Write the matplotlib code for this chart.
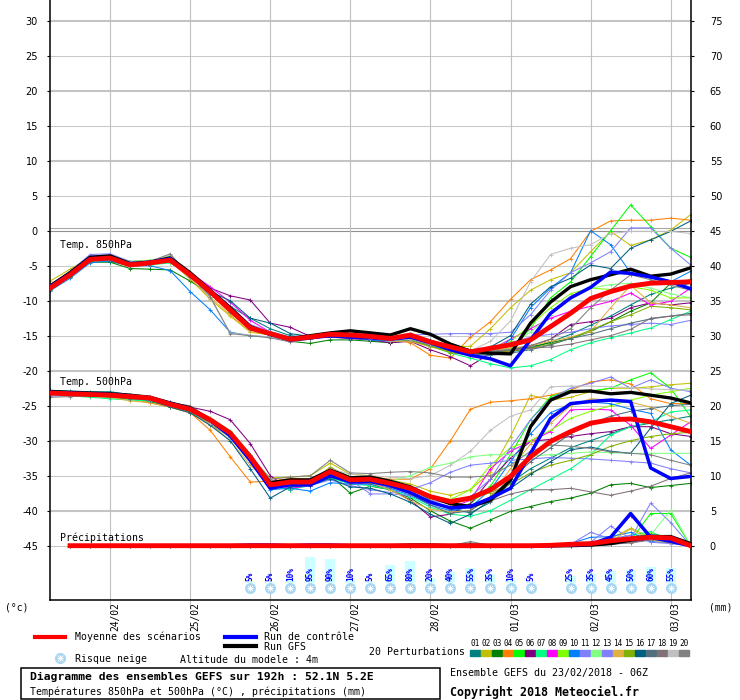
import numpy as np
import matplotlib
matplotlib.use("Agg")
from matplotlib import pyplot as plt
from matplotlib.lines import Line2D
from matplotlib.patches import Rectangle

MONO = "DejaVu Sans Mono"

# time axis: GEFS 23/02/2018 06Z, every 6h up to 192h
hours = list(range(0, 193, 6))
prc_hours = hours[1:]
day_hours = [18, 42, 66, 90, 114, 138, 162, 186]
day_labels = ["24/02", "25/02", "26/02", "27/02", "28/02", "01/03", "02/03", "03/03"]

member_names = ["01", "02", "03", "04", "05", "06", "07", "08", "09", "10",
                "11", "12", "13", "14", "15", "16", "17", "18", "19", "20"]
member_colors = ["#008080", "#c0c000", "#008000", "#ff8000", "#00ff00", "#800080",
                 "#00ff80", "#ff00ff", "#80ff00", "#0080ff", "#8080ff", "#80ff80",
                 "#8080ff", "#e0b040", "#80b000", "#006080", "#507080", "#807078",
                 "#c0c0c0", "#808080"]

# ---- 850 hPa temperature (C)
t850_mean = [-8.2, -6.3, -4.1, -3.9, -4.9, -4.6, -4.2, -6.3, -8.7, -11.3, -13.9, -14.7, -15.5, -15.2, -14.8, -14.9, -15.1,
             -15.4, -14.9, -15.9, -16.6, -17.3, -16.8, -16.3, -15.6, -13.7, -11.8, -9.7, -8.7, -7.9, -7.5, -7.4, -7.3]
t850_gfs = [-7.9, -6.0, -3.8, -3.6, -4.7, -4.5, -3.9, -6.0, -8.5, -11.0, -13.7, -14.8, -15.4, -15.0, -14.6, -14.3, -14.6,
            -14.9, -14.0, -14.8, -16.2, -17.2, -17.5, -17.6, -13.2, -10.2, -8.0, -7.0, -6.3, -5.5, -6.5, -6.2, -5.3]
t850_ctrl = [-8.0, -6.2, -4.0, -3.9, -4.8, -4.5, -4.0, -6.4, -8.6, -11.2, -13.8, -14.8, -15.6, -15.3, -15.0, -15.2, -15.3,
             -15.5, -15.2, -16.0, -17.0, -17.8, -18.3, -19.3, -15.6, -11.8, -9.6, -8.1, -5.9, -6.1, -6.6, -7.3, -8.3]
t850_01 = [-8.0, -6.1, -4.2, -4.4, -5.0, -4.8, -4.1, -6.6, -8.9, -10.8, -12.5, -14.0, -15.0, -15.2, -14.7, -14.9, -15.1,
           -15.4, -15.0, -15.7, -16.4, -17.0, -17.4, -17.3, -16.8, -15.9, -14.8, -13.5, -12.2, -10.6, -9.1, -8.2, -7.5]
t850_02 = [-7.2, -5.5, -3.9, -3.8, -4.6, -4.4, -4.1, -6.9, -9.8, -12.2, -14.5, -14.9, -15.5, -15.1, -14.8, -15.0, -15.1,
           -15.5, -15.3, -16.1, -16.6, -16.5, -14.0, -11.0, -8.5, -7.0, -6.0, -3.0, -0.1, -2.1, -1.3, 0.1, 2.3]
t850_03 = [-8.4, -6.6, -4.5, -4.5, -5.4, -5.5, -5.6, -7.2, -9.0, -11.5, -14.0, -15.0, -15.8, -16.1, -15.6, -15.6, -15.8,
           -16.0, -15.7, -16.5, -17.2, -17.6, -17.4, -17.0, -16.6, -16.0, -15.4, -14.4, -13.0, -11.5, -10.3, -7.5, -7.0]
t850_04 = [-8.0, -6.2, -4.0, -3.8, -4.8, -4.5, -4.3, -6.5, -9.0, -11.8, -14.0, -14.6, -15.3, -15.0, -14.9, -15.2, -15.4,
           -15.5, -16.0, -17.8, -18.2, -15.2, -13.0, -9.8, -7.0, -5.6, -4.0, -0.1, 1.4, 1.5, 1.5, 1.8, 1.5]
t850_05 = [-8.3, -6.4, -4.2, -3.7, -4.4, -4.3, -3.6, -6.0, -8.6, -11.2, -13.6, -14.6, -15.4, -15.3, -15.0, -15.2, -15.4,
           -15.7, -15.4, -16.3, -17.0, -17.5, -17.2, -16.8, -14.0, -9.6, -7.3, -3.7, 0.0, 3.7, 0.6, -2.5, -3.8]
t850_06 = [-8.4, -6.6, -4.4, -4.0, -4.8, -4.6, -4.2, -6.2, -8.2, -9.3, -9.9, -13.2, -13.8, -15.1, -15.2, -15.4, -15.6,
           -16.0, -15.8, -17.0, -18.0, -19.3, -17.5, -17.2, -16.5, -15.5, -13.4, -13.0, -12.5, -11.0, -10.3, -10.6, -10.3]
t850_07 = [-8.5, -6.5, -4.4, -4.2, -5.1, -4.9, -4.6, -6.4, -8.8, -11.5, -14.0, -14.9, -15.6, -15.4, -15.0, -15.3, -15.5,
           -15.7, -15.6, -16.4, -17.5, -18.2, -19.0, -19.6, -19.3, -18.4, -17.0, -16.0, -15.3, -14.6, -13.9, -12.7, -11.5]
t850_08 = [-8.1, -6.2, -4.0, -3.8, -4.7, -4.5, -4.0, -6.0, -8.0, -10.2, -12.8, -14.5, -15.3, -15.1, -14.8, -15.1, -15.3,
           -15.6, -15.5, -16.2, -17.0, -17.5, -17.0, -15.5, -14.0, -12.5, -11.5, -10.8, -10.1, -8.9, -10.6, -10.1, -8.2]
t850_09 = [-8.2, -6.3, -4.1, -3.6, -4.4, -4.2, -3.8, -6.3, -8.6, -11.2, -14.0, -14.8, -15.5, -15.2, -14.9, -15.1, -15.3,
           -15.6, -15.3, -16.0, -16.8, -17.4, -16.8, -15.8, -13.5, -11.0, -9.0, -8.2, -8.4, -8.0, -8.5, -9.6, -9.6]
t850_10 = [-8.6, -6.8, -4.6, -4.3, -5.0, -5.0, -5.7, -8.7, -11.3, -14.5, -15.0, -15.2, -15.6, -15.4, -15.1, -15.3, -15.6,
           -15.8, -15.6, -16.4, -17.0, -17.6, -17.8, -15.5, -11.0, -8.2, -6.0, 0.0, -2.0, -6.0, -6.8, -7.3, -5.8]
t850_11 = [-7.8, -5.8, -3.4, -3.3, -4.4, -4.3, -4.0, -6.2, -8.4, -11.0, -13.6, -14.6, -15.4, -15.1, -14.8, -14.9, -15.0,
           -15.2, -14.9, -14.8, -14.7, -14.7, -14.7, -14.5, -12.0, -8.5, -6.0, -4.6, -3.0, 0.4, 0.4, -2.5, -4.9]
t850_12 = [-8.0, -6.1, -4.0, -3.7, -4.6, -4.4, -4.1, -6.4, -8.7, -11.4, -14.0, -14.8, -15.5, -15.3, -15.0, -15.2, -15.4,
           -15.7, -15.5, -16.3, -17.0, -17.3, -17.0, -16.3, -14.5, -12.0, -9.5, -8.2, -7.7, -7.5, -8.2, -9.0, -9.6]
t850_13 = [-7.9, -6.0, -3.6, -3.5, -4.5, -4.4, -3.9, -6.1, -8.3, -10.8, -13.4, -14.4, -15.2, -15.0, -14.7, -14.9, -15.1,
           -15.5, -15.3, -16.0, -16.8, -17.2, -16.8, -16.0, -15.2, -14.8, -14.5, -14.0, -13.6, -13.4, -13.2, -13.4, -12.8]
t850_14 = [-8.1, -6.2, -4.3, -4.0, -4.9, -4.7, -4.4, -6.9, -9.5, -12.0, -14.4, -14.8, -15.5, -15.2, -14.9, -15.1, -15.3,
           -15.8, -15.8, -16.6, -17.3, -17.8, -17.2, -16.8, -16.4, -15.8, -15.2, -14.4, -11.0, -7.8, -10.3, -10.6, -11.0]
t850_15 = [-8.3, -6.4, -4.2, -4.0, -4.8, -4.7, -4.3, -6.5, -8.8, -11.3, -13.9, -14.8, -15.5, -15.3, -15.0, -15.2, -15.4,
           -15.7, -15.6, -16.5, -17.4, -17.8, -17.6, -17.2, -16.8, -16.2, -15.4, -14.2, -13.0, -12.0, -10.8, -11.0, -11.3]
t850_16 = [-8.3, -6.4, -4.3, -4.1, -4.9, -4.6, -4.2, -6.0, -8.7, -10.0, -12.5, -13.2, -14.7, -15.1, -14.6, -14.8, -15.0,
           -15.2, -14.8, -15.6, -16.6, -17.2, -16.6, -15.0, -10.5, -8.0, -6.8, -4.9, -5.4, -2.5, -1.3, -0.1, 1.4]
t850_17 = [-8.2, -6.3, -4.2, -4.0, -4.9, -4.7, -4.3, -6.6, -9.0, -11.6, -14.1, -14.9, -15.6, -15.4, -15.1, -15.3, -15.5,
           -15.7, -15.5, -16.3, -17.0, -17.6, -17.8, -17.5, -17.0, -16.3, -15.4, -14.8, -14.0, -13.2, -12.6, -12.2, -11.8]
t850_18 = [-8.0, -6.1, -4.1, -3.9, -4.8, -4.6, -4.1, -6.3, -8.6, -11.2, -13.8, -14.7, -15.4, -15.2, -14.9, -15.1, -15.3,
           -15.6, -15.4, -16.2, -16.9, -17.4, -17.3, -17.0, -16.8, -16.6, -16.2, -15.6, -15.0, -14.1, -12.5, -12.2, -12.0]
t850_19 = [-7.9, -6.0, -3.9, -3.8, -4.6, -4.3, -3.5, -6.2, -9.6, -14.6, -14.9, -15.2, -15.6, -15.3, -15.0, -15.2, -15.4,
           -15.7, -15.5, -16.2, -16.8, -17.2, -15.8, -12.9, -7.3, -3.4, -2.5, -2.0, -0.4, -0.1, -0.1, -0.1, -0.4]
t850_20 = [-8.2, -6.3, -4.0, -3.8, -4.7, -4.4, -3.3, -6.4, -9.4, -14.7, -15.0, -15.3, -15.9, -15.5, -15.0, -15.0, -15.2,
           -15.5, -15.2, -15.9, -16.6, -17.0, -17.2, -17.0, -16.4, -15.5, -14.0, -11.0, -8.5, -6.3, -7.0, -7.8, -8.5]

# ---- 500 hPa temperature (C)
t500_mean = [-23.2, -23.3, -23.4, -23.5, -23.7, -23.9, -24.8, -25.5, -27.0, -28.9, -32.3, -36.3, -35.9, -35.9, -34.4, -35.6, -35.5,
             -36.1, -36.8, -38.0, -38.7, -38.2, -37.0, -35.1, -32.3, -30.1, -28.7, -27.5, -27.0, -26.9, -27.3, -28.0, -28.7]
t500_gfs = [-23.0, -23.1, -23.2, -23.3, -23.5, -23.8, -24.6, -25.3, -27.0, -29.0, -32.5, -36.0, -35.6, -35.6, -34.2, -35.3, -35.2,
            -35.8, -36.6, -38.0, -39.0, -39.4, -38.5, -35.6, -28.0, -24.2, -23.0, -22.9, -23.3, -23.1, -23.5, -23.9, -24.6]
t500_ctrl = [-23.1, -23.2, -23.3, -23.4, -23.6, -23.9, -24.7, -25.4, -27.1, -29.3, -32.8, -36.8, -36.3, -36.3, -35.0, -35.9, -35.8,
             -36.4, -37.4, -38.8, -39.6, -39.4, -38.2, -36.8, -31.8, -26.8, -24.7, -24.4, -24.2, -24.4, -33.9, -35.4, -35.1]
t500_01 = [-22.8, -22.9, -23.0, -23.0, -23.4, -23.8, -24.7, -25.5, -27.2, -29.3, -32.8, -36.5, -36.0, -35.8, -34.6, -35.4, -35.2,
           -36.0, -36.8, -38.5, -39.8, -40.3, -38.8, -36.0, -34.0, -32.5, -31.0, -30.0, -29.0, -28.0, -27.5, -27.0, -26.5]
t500_02 = [-23.2, -23.2, -23.4, -23.6, -23.8, -24.0, -24.9, -25.8, -27.3, -29.1, -32.4, -35.3, -35.2, -35.0, -33.2, -34.8, -35.0,
           -35.6, -36.2, -37.2, -37.8, -37.0, -34.5, -29.4, -23.5, -24.2, -23.8, -23.0, -22.5, -22.5, -22.3, -22.0, -21.8]
t500_03 = [-23.0, -23.3, -23.6, -23.7, -24.0, -24.4, -25.2, -26.0, -27.6, -29.5, -33.0, -36.8, -36.4, -36.2, -35.0, -37.5, -36.5,
           -37.0, -38.2, -40.0, -41.5, -42.5, -41.3, -40.1, -39.4, -38.7, -38.2, -37.5, -36.3, -36.1, -36.7, -36.4, -36.1]
t500_04 = [-23.3, -23.4, -23.5, -23.6, -24.0, -24.6, -25.2, -26.0, -28.5, -32.3, -35.9, -35.8, -35.4, -35.4, -34.2, -35.2, -35.2,
           -35.5, -35.5, -34.0, -30.0, -25.5, -24.5, -24.3, -24.0, -23.5, -22.8, -21.6, -21.3, -21.9, -24.0, -24.7, -24.7]
t500_05 = [-23.1, -23.3, -23.6, -23.8, -24.1, -23.9, -24.6, -25.3, -26.8, -28.6, -32.0, -36.0, -36.6, -36.0, -34.8, -35.8, -35.9,
           -36.5, -37.5, -38.8, -39.6, -39.0, -36.5, -32.0, -27.0, -23.7, -22.8, -22.9, -22.5, -21.3, -20.3, -22.5, -26.6]
t500_06 = [-23.2, -23.3, -23.4, -23.5, -23.7, -23.8, -24.5, -25.2, -25.8, -27.0, -30.4, -35.0, -37.0, -36.2, -35.2, -36.0, -36.2,
           -37.0, -38.5, -40.9, -40.5, -39.0, -35.5, -32.5, -30.1, -29.8, -29.4, -29.0, -28.7, -28.0, -28.0, -29.0, -29.4]
t500_07 = [-23.4, -23.6, -23.8, -24.0, -24.2, -24.3, -25.0, -25.8, -27.4, -29.5, -33.0, -36.5, -37.0, -36.4, -35.3, -36.2, -36.4,
           -37.0, -38.0, -39.5, -40.5, -40.8, -40.0, -38.5, -37.0, -35.5, -34.0, -32.0, -29.2, -28.0, -27.3, -25.9, -25.6]
t500_08 = [-23.0, -23.2, -23.5, -23.6, -23.8, -24.0, -24.8, -25.6, -27.2, -29.2, -32.6, -36.2, -36.8, -36.4, -35.0, -36.0, -36.0,
           -36.6, -37.4, -38.8, -39.6, -38.5, -34.0, -31.5, -30.1, -28.7, -25.6, -25.5, -25.6, -27.8, -31.1, -29.2, -27.3]
t500_09 = [-23.3, -23.4, -23.5, -23.6, -23.8, -24.0, -24.9, -25.6, -27.0, -28.8, -32.2, -36.0, -35.8, -35.6, -34.2, -35.4, -35.4,
           -36.0, -36.6, -37.8, -38.4, -37.0, -33.5, -31.0, -30.0, -28.5, -26.8, -25.8, -25.0, -24.2, -23.5, -23.0, -22.5]
t500_10 = [-23.0, -23.1, -23.3, -23.5, -23.8, -24.0, -25.0, -25.8, -27.4, -29.4, -33.0, -37.0, -36.8, -37.2, -36.0, -36.2, -36.2,
           -36.8, -37.8, -39.2, -40.0, -39.5, -37.0, -33.0, -29.0, -26.0, -24.8, -24.5, -24.7, -25.5, -26.1, -31.3, -33.5]
t500_11 = [-23.6, -23.6, -23.5, -23.4, -23.6, -23.9, -24.7, -25.4, -27.0, -28.8, -32.0, -35.8, -35.6, -35.6, -34.0, -35.6, -37.6,
           -37.6, -37.8, -38.5, -39.0, -38.0, -35.5, -31.0, -27.0, -24.0, -22.5, -21.8, -20.9, -22.5, -21.3, -22.5, -23.0]
t500_12 = [-23.0, -23.2, -23.4, -23.6, -23.9, -24.2, -24.9, -25.6, -27.2, -29.0, -32.4, -36.2, -36.4, -36.0, -34.8, -35.6, -35.5,
           -35.8, -35.0, -33.8, -33.2, -32.3, -32.0, -32.0, -32.2, -32.0, -31.8, -31.6, -31.7, -31.8, -31.8, -31.8, -31.8]
t500_13 = [-23.2, -23.3, -23.4, -23.6, -23.9, -24.2, -25.0, -25.7, -27.3, -29.1, -32.6, -36.4, -36.6, -36.4, -35.6, -36.4, -37.0,
           -37.4, -37.0, -36.0, -34.5, -33.5, -33.2, -32.8, -32.6, -32.4, -32.5, -32.6, -32.8, -33.0, -33.2, -34.0, -34.6]
t500_14 = [-23.3, -23.5, -23.6, -23.8, -24.3, -24.6, -25.2, -26.0, -27.6, -30.0, -33.5, -36.0, -36.0, -35.8, -34.6, -35.8, -36.0,
           -37.0, -38.6, -39.8, -40.2, -40.0, -38.0, -34.0, -30.5, -27.5, -25.0, -24.0, -24.2, -24.5, -25.2, -26.5, -27.5]
t500_15 = [-23.1, -23.2, -23.3, -23.4, -23.7, -23.9, -24.7, -25.5, -27.0, -29.0, -32.5, -36.2, -36.0, -35.8, -33.8, -35.2, -35.6,
           -36.0, -36.8, -38.2, -39.0, -38.4, -37.4, -36.2, -34.6, -33.5, -32.8, -32.0, -30.8, -30.0, -29.4, -29.0, -28.8]
t500_16 = [-22.8, -23.0, -23.3, -23.5, -23.9, -24.2, -25.2, -26.0, -27.8, -30.0, -34.0, -38.2, -36.6, -36.4, -35.4, -36.6, -36.8,
           -37.6, -38.8, -40.5, -41.8, -40.5, -38.5, -36.8, -34.8, -33.0, -31.3, -30.9, -31.5, -31.8, -28.2, -24.7, -23.5]
t500_17 = [-23.2, -23.3, -23.5, -23.7, -24.0, -24.2, -25.0, -25.8, -27.4, -29.4, -32.8, -36.4, -36.2, -36.0, -34.8, -36.0, -36.0,
           -36.6, -37.6, -39.2, -40.4, -40.0, -38.0, -35.5, -33.0, -31.0, -29.0, -27.6, -26.5, -25.8, -25.4, -25.0, -24.8]
t500_18 = [-23.3, -23.4, -23.5, -23.6, -23.8, -24.1, -24.8, -25.6, -27.2, -29.2, -32.6, -36.2, -36.2, -36.0, -34.8, -35.8, -35.8,
           -36.4, -37.4, -38.8, -39.6, -39.6, -38.6, -37.6, -37.0, -37.0, -36.8, -37.3, -37.8, -37.2, -36.5, -35.4, -34.6]
t500_19 = [-23.1, -23.2, -23.3, -23.4, -23.6, -23.8, -24.6, -25.3, -27.4, -29.6, -33.0, -36.0, -35.6, -35.4, -34.0, -34.8, -35.0,
           -35.2, -35.4, -35.0, -33.5, -31.5, -28.5, -26.5, -25.6, -22.3, -22.2, -22.2, -22.3, -22.4, -22.6, -22.7, -22.8]
t500_20 = [-23.8, -23.7, -23.6, -23.5, -23.5, -23.7, -24.6, -25.0, -27.0, -28.8, -32.0, -35.5, -35.2, -35.0, -32.8, -34.6, -34.7,
           -34.5, -34.4, -34.6, -35.2, -35.2, -35.0, -33.5, -31.5, -30.6, -30.8, -31.1, -31.6, -31.8, -32.0, -32.8, -33.5]

# ---- precipitation (mm per 6h), from +6h
rr_mean = [0, 0, 0, 0, 0, 0, 0, 0, 0, 0, 0, 0, 0, 0, 0, 0, 0, 0, 0, 0, 0, 0, 0, 0,
           0.05, 0.2, 0.3, 0.7, 1.0, 1.2, 1.1, 0.0]
rr_gfs = [0, 0, 0, 0, 0, 0, 0, 0, 0, 0, 0, 0, 0, 0, 0, 0, 0, 0.1, 0.1, 0, 0.1, 0, 0, 0,
          0, 0, 0.1, 0.3, 0.8, 1.3, 1.3, 0.3]
rr_ctrl = [0, 0, 0, 0, 0, 0, 0, 0, 0, 0.1, 0.1, 0, 0.1, 0.1, 0, 0, 0, 0, 0, 0, 0, 0, 0, 0,
           0, 0.1, 0.2, 1.2, 4.6, 1.2, 0.6, 0.0]
rr_01 = [0, 0, 0, 0, 0, 0, 0, 0, 0, 0, 0, 0, 0, 0, 0, 0, 0, 0, 0, 0, 0, 0, 0,
         0, 0, 0.1, 0.3, 0.6, 1.0, 1.3, 1.0, 0]
rr_02 = [0, 0, 0, 0, 0, 0, 0, 0, 0, 0, 0, 0, 0, 0, 0, 0, 0, 0, 0, 0, 0, 0, 0,
         0, 0, 0, 0.4, 1.0, 2.5, 1.2, 0.6, 0]
rr_03 = [0, 0, 0, 0, 0, 0, 0, 0, 0, 0, 0, 0, 0, 0, 0, 0, 0, 0, 0, 0, 0, 0, 0,
         0, 0, 0, 0, 0.3, 0.6, 0.8, 0.9, 0.1]
rr_04 = [0, 0, 0, 0, 0, 0, 0, 0, 0, 0, 0, 0, 0, 0, 0, 0, 0, 0, 0, 0, 0, 0, 0,
         0, 0, 0.1, 0.2, 0.5, 1.0, 1.5, 0.8, 0]
rr_05 = [0, 0, 0, 0, 0, 0, 0, 0, 0, 0, 0, 0, 0, 0, 0, 0, 0, 0, 0, 0, 0, 0, 0,
         0, 0, 0, 0.1, 0.4, 0.8, 4.6, 4.6, 0]
rr_06 = [0, 0, 0, 0, 0, 0, 0, 0, 0, 0, 0, 0, 0, 0, 0, 0, 0, 0, 0, 0, 0, 0, 0,
         0, 0, 0, 0, 0.2, 0.5, 0.9, 0.7, 0]
rr_07 = [0, 0, 0, 0, 0, 0, 0, 0, 0, 0, 0, 0, 0, 0, 0, 0, 0, 0, 0, 0, 0, 0, 0,
         0, 0, 0, 0.2, 0.8, 1.5, 2.0, 0.8, 0]
rr_08 = [0, 0, 0, 0, 0, 0, 0, 0, 0, 0, 0, 0, 0, 0, 0, 0, 0, 0, 0, 0, 0, 0, 0,
         0, 0, 0, 0.2, 1.2, 4.3, 1.2, 0.6, 0]
rr_09 = [0, 0, 0, 0, 0, 0, 0, 0, 0, 0, 0, 0, 0, 0, 0, 0, 0, 0, 0, 0, 0, 0, 0,
         0, 0, 0, 0.1, 0.5, 1.2, 1.8, 1.0, 0]
rr_10 = [0, 0, 0, 0, 0, 0, 0, 0, 0, 0, 0, 0, 0, 0, 0, 0, 0, 0, 0, 0, 0, 0, 0,
         0, 0, 0.3, 1.2, 1.3, 1.9, 0.6, 0.4, 0]
rr_11 = [0, 0, 0, 0, 0, 0, 0, 0, 0, 0, 0, 0, 0, 0, 0, 0, 0, 0, 0, 0, 0, 0, 0,
         0, 0, 0.1, 0.5, 2.8, 1.0, 6.1, 3.3, 0]
rr_12 = [0, 0, 0, 0, 0, 0, 0, 0, 0, 0, 0, 0, 0, 0, 0, 0, 0, 0, 0, 0, 0, 0, 0,
         0, 0, 0, 0, 0.3, 0.6, 1.5, 5.1, 0]
rr_13 = [0, 0, 0, 0, 0, 0, 0, 0, 0, 0, 0, 0, 0, 0, 0, 0, 0, 0, 0, 0, 0, 0, 0,
         0, 0, 0.2, 1.9, 1.0, 1.5, 0.5, 0.3, 0]
rr_14 = [0, 0, 0, 0, 0, 0, 0, 0, 0, 0, 0, 0, 0, 0, 0, 0, 0, 0, 0, 0, 0, 0, 0,
         0, 0, 0, 0.2, 0.6, 2.4, 0.8, 0.4, 0]
rr_15 = [0, 0, 0, 0, 0, 0, 0, 0, 0, 0, 0, 0, 0, 0, 0, 0, 0, 0, 0, 0, 0, 0, 0,
         0, 0, 0, 0.1, 0.4, 0.9, 1.4, 1.2, 0]
rr_16 = [0, 0, 0, 0, 0, 0, 0, 0, 0, 0, 0, 0, 0, 0, 0, 0, 0, 0, 0, 0, 0, 0, 0,
         0, 0, 0, 0.1, 0.5, 1.2, 1.6, 1.3, 0]
rr_17 = [0, 0, 0, 0, 0, 0, 0, 0, 0, 0, 0, 0, 0, 0, 0, 0, 0, 0, 0, 0, 0, 0, 0,
         0, 0, 0, 0.1, 0.3, 0.8, 1.5, 1.4, 0.2]
rr_18 = [0, 0, 0, 0, 0, 0, 0, 0, 0, 0, 0, 0, 0, 0, 0, 0, 0, 0, 0, 0, 0, 0, 0,
         0, 0, 0, 0, 0.2, 0.4, 0.8, 1.0, 0.2]
rr_19 = [0, 0, 0, 0, 0, 0, 0, 0, 0, 0, 0, 0, 0, 0, 0, 0, 0, 0, 0, 0, 0, 0, 0,
         0, 0, 0, 0.2, 0.4, 0.8, 1.0, 0.8, 0]
rr_20 = [0, 0, 0, 0, 0, 0, 0, 0, 0, 0, 0, 0, 0, 0, 0, 0, 0, 0, 0, 0, 0.6, 0, 0,
         0, 0, 0, 0.1, 0.3, 0.6, 1.1, 1.0, 0.1]

# ---- snow risk (%)
snow_hours = [60, 66, 72, 78, 84, 90, 96, 102, 108, 114, 120, 126, 132, 138, 144,
              156, 162, 168, 174, 180, 186]
snow_pct = [5, 5, 10, 95, 90, 10, 5, 65, 80, 20, 40, 55, 35, 10, 5,
            25, 35, 45, 50, 60, 55]

t850_members = [t850_01, t850_02, t850_03, t850_04, t850_05, t850_06, t850_07, t850_08, t850_09, t850_10,
                t850_11, t850_12, t850_13, t850_14, t850_15, t850_16, t850_17, t850_18, t850_19, t850_20]
t500_members = [t500_01, t500_02, t500_03, t500_04, t500_05, t500_06, t500_07, t500_08, t500_09, t500_10,
                t500_11, t500_12, t500_13, t500_14, t500_15, t500_16, t500_17, t500_18, t500_19, t500_20]
rr_members = [rr_01, rr_02, rr_03, rr_04, rr_05, rr_06, rr_07, rr_08, rr_09, rr_10,
              rr_11, rr_12, rr_13, rr_14, rr_15, rr_16, rr_17, rr_18, rr_19, rr_20]

RR_BASE = -45  # precipitation drawn from the -45 line, right axis = left + 45

W, H = 740, 700


def fx(px):
    return px / W


def fy(py):
    return 1 - py / H


fig = plt.figure(figsize=(7.4, 7.0), dpi=100)
ax = fig.add_axes([fx(50), fy(600), (690.7 - 50) / W, 600 / H])
ax.set_xlim(0, 192)
ylo, yhi = (230.7 - 600) / 7, 230.7 / 7
ax.set_ylim(ylo, yhi)

# grid
for v in range(-45, 31, 5):
    if v == 0:
        ax.axhline(0, color="#909090", lw=0.8, zorder=0)
        ax.axhline(0.43, color="#a8a8a8", lw=0.8, zorder=0)
    elif v % 10 == 0:
        ax.axhline(v, color="#c4c4c4", lw=1.5, zorder=0)
    else:
        ax.axhline(v, color="#c8c8c8", lw=0.75, zorder=0)
for h in day_hours:
    ax.axvline(h, color="#c0c0c0", lw=0.8, zorder=0)

# snow risk
bar_h = [p * 0.0386 for p in snow_pct]
ax.bar(snow_hours, bar_h, width=3, bottom=-50.33, color="#ccffff", zorder=1)
for h, p in zip(snow_hours, snow_pct):
    ax.text(h, -50.05, f"{p}%", rotation=90, ha="center", va="bottom", fontsize=5.6,
            color="#0000ff", family=MONO, weight="bold", zorder=3)
ax.scatter(snow_hours, [-51.05] * len(snow_hours), s=62, color="#a6d6f2", zorder=3, linewidths=0)
ax.scatter(snow_hours, [-51.05] * len(snow_hours), s=22, marker="+", color="white", linewidths=0.7, zorder=4)
ax.scatter(snow_hours, [-51.05] * len(snow_hours), s=14, marker="x", color="white", linewidths=0.6, zorder=4)

# ensemble members
for c, a, b, r in zip(member_colors, t850_members, t500_members, rr_members):
    kw = dict(color=c, lw=0.75, marker="+", ms=3, mew=0.6, zorder=2)
    ax.plot(hours, a, **kw)
    ax.plot(hours, b, **kw)
    ax.plot(prc_hours, [RR_BASE + x for x in r], **kw)

for t850, t500, rr, c, lw, z in [(t850_gfs, t500_gfs, rr_gfs, "black", 2.4, 5),
                                 (t850_ctrl, t500_ctrl, rr_ctrl, "#0000ff", 2.5, 6),
                                 (t850_mean, t500_mean, rr_mean, "#ff0000", 3.5, 7)]:
    ax.plot(hours, t850, color=c, lw=lw, zorder=z, solid_joinstyle="round")
    ax.plot(hours, t500, color=c, lw=lw, zorder=z, solid_joinstyle="round")
    ax.plot(prc_hours, [RR_BASE + x for x in rr], color=c, lw=lw, zorder=z, solid_joinstyle="round")

# panel labels
ax.text(3, -2.0, "Temp. 850hPa", fontsize=7.1, family=MONO, va="center", zorder=8)
ax.text(3, -21.6, "Temp. 500hPa", fontsize=7.1, family=MONO, va="center", zorder=8)
ax.text(3, -43.8, "Précipitations", fontsize=7.1, family=MONO, va="center", zorder=8)

# axes / ticks
ax.spines["top"].set_visible(False)
for s in ["left", "right", "bottom"]:
    ax.spines[s].set_linewidth(1.1)
ax.set_yticks(range(-45, 31, 5))
ax.set_yticklabels([str(v) for v in range(-45, 31, 5)])
ax.tick_params(axis="y", length=2.2, width=0.8, pad=6.5, labelsize=7)
ax.set_xticks(day_hours)
ax.set_xticklabels([])
ax.tick_params(axis="x", length=4, width=0.8, color="#c0c0c0")

ax2 = ax.twinx()
ax2.set_ylim(ylo, yhi)
ax2.set_yticks(range(-45, 31, 5))
ax2.set_yticklabels([str(v - RR_BASE) for v in range(-45, 31, 5)])
ax2.tick_params(axis="y", length=2.2, width=0.8, pad=11.5, labelsize=7)
for lab in ax2.get_yticklabels():
    lab.set_horizontalalignment("left")
for s in ["top", "left", "bottom", "right"]:
    ax2.spines[s].set_visible(False)

for h, lab in zip(day_hours, day_labels):
    ax.annotate(lab, (h, ylo), xytext=(5, -2), textcoords="offset pixels", rotation=90,
                ha="center", va="top", fontsize=6.9, family=MONO, annotation_clip=False)

fig.text(fx(17), fy(607), "(°c)", fontsize=7, family=MONO, ha="center", va="center")
fig.text(fx(721), fy(607), "(mm)", fontsize=7, family=MONO, ha="center", va="center")

# legend
fig.add_artist(Line2D([fx(35), fx(65)], [fy(637), fy(637)], color="#ff0000", lw=3, transform=fig.transFigure))
fig.text(fx(75), fy(637), "Moyenne des scénarios", fontsize=7.1, family=MONO, va="center")
fig.add_artist(Line2D([fx(225), fx(256)], [fy(637), fy(637)], color="#0000ff", lw=3, transform=fig.transFigure))
fig.text(fx(264), fy(637), "Run de contrôle", fontsize=7.1, family=MONO, va="center")
fig.add_artist(Line2D([fx(225), fx(256)], [fy(646), fy(646)], color="black", lw=3, transform=fig.transFigure))
fig.text(fx(264), fy(647), "Run GFS", fontsize=7.1, family=MONO, va="center")
fig.add_artist(Line2D([fx(60)], [fy(658)], marker="o", ms=8, color="#a6d6f2", mew=0, transform=fig.transFigure))
fig.add_artist(Line2D([fx(60)], [fy(658)], marker="+", ms=5, color="white", mew=0.7, transform=fig.transFigure))
fig.add_artist(Line2D([fx(60)], [fy(658)], marker="x", ms=4, color="white", mew=0.6, transform=fig.transFigure))
fig.text(fx(75), fy(659), "Risque neige", fontsize=7.1, family=MONO, va="center")
fig.text(fx(180), fy(660), "Altitude du modele : 4m", fontsize=7.1, family=MONO, va="center")
fig.text(fx(369), fy(652), "20 Perturbations", fontsize=7.1, family=MONO, va="center")
for k, (name, c) in enumerate(zip(member_names, member_colors)):
    x0 = 470 + 11 * k
    fig.add_artist(Rectangle((fx(x0), fy(656)), 10 / W, 6 / H, color=c, transform=fig.transFigure))
    fig.text(fx(x0 + 5), fy(644), name, fontsize=5.6, family=MONO, ha="center", va="center")

# footer
fig.add_artist(Rectangle((fx(20.7), fy(699.3)), (440 - 20.7) / W, 31.6 / H, fill=False,
                         edgecolor="black", lw=1.1, transform=fig.transFigure))
fig.text(fx(30), fy(677), "Diagramme des ensembles GEFS sur 192h : 52.1N 5.2E",
         fontsize=8.2, family=MONO, weight="bold", va="center")
fig.text(fx(30), fy(692), "Températures 850hPa et 500hPa (°C) , précipitations (mm)",
         fontsize=7.1, family=MONO, va="center")
fig.text(fx(450), fy(673), "Ensemble GEFS du 23/02/2018 - 06Z", fontsize=7.2, family=MONO, va="center")
fig.text(fx(450), fy(692), "Copyright 2018 Meteociel.fr", fontsize=8.4, family=MONO,
         weight="bold", va="center")

fig.savefig("out.png", dpi=100)
